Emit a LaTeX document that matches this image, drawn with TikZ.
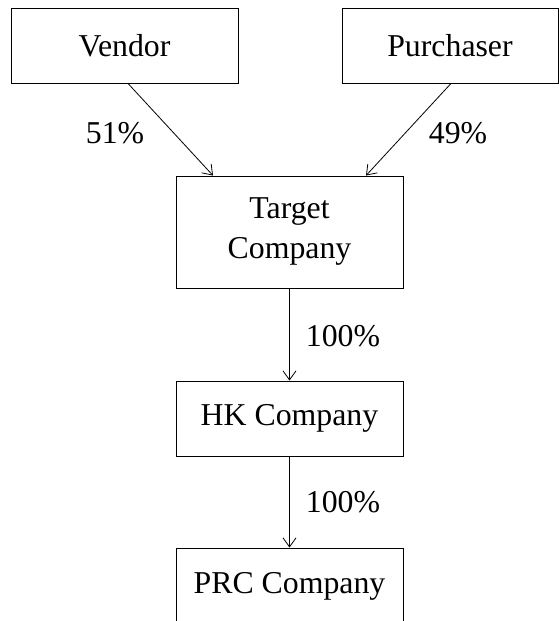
\documentclass[tikz,border=0pt]{standalone}
\usepackage{fontspec}
\setmainfont{Liberation Serif}
\usetikzlibrary{arrows.meta}
\begin{document}
\begin{tikzpicture}[x=1pt,y=-1pt,
  box/.style={draw,line width=0.9pt,inner sep=0pt,align=center,font=\fontsize{31.8}{40}\selectfont},
  lbl/.style={inner sep=0pt,font=\fontsize{31.8}{40}\selectfont},
  conn/.style={line width=0.8pt,-{Straight Barb[length=9pt,width=13pt,line width=0.8pt]}}]
\useasboundingbox (0,0) rectangle (559,621);
\node[box,minimum width=227pt,minimum height=75pt] (vendor) at (124.5,45.5) {Vendor};
\node[box,minimum width=216pt,minimum height=75pt] (purch) at (450,45.5) {Purchaser};
\node[box,minimum width=227pt,minimum height=112pt] (target) at (289.5,232) {Target\\Company};
\node[box,minimum width=227pt,minimum height=75pt] (hk) at (289.5,418.5) {HK Company};
\node[box,minimum width=227pt,minimum height=77pt] (prc) at (289.5,586.5) {PRC Company};
\draw[conn] ([xshift=3.5pt]vendor.south) -- ([xshift=-76.5pt]target.north);
\draw[conn] ([xshift=1pt]purch.south) -- ([xshift=76.5pt]target.north);
\draw[conn] (target.south) -- (hk.north);
\draw[conn] (hk.south) -- (prc.north);
\node[lbl] (l51) at (115,133) {51\%};
\node[lbl] (l49) at (458,133) {49\%};
\node[lbl] (l100a) at (343,336) {100\%};
\node[lbl] (l100b) at (343,502) {100\%};
\end{tikzpicture}
\end{document}
